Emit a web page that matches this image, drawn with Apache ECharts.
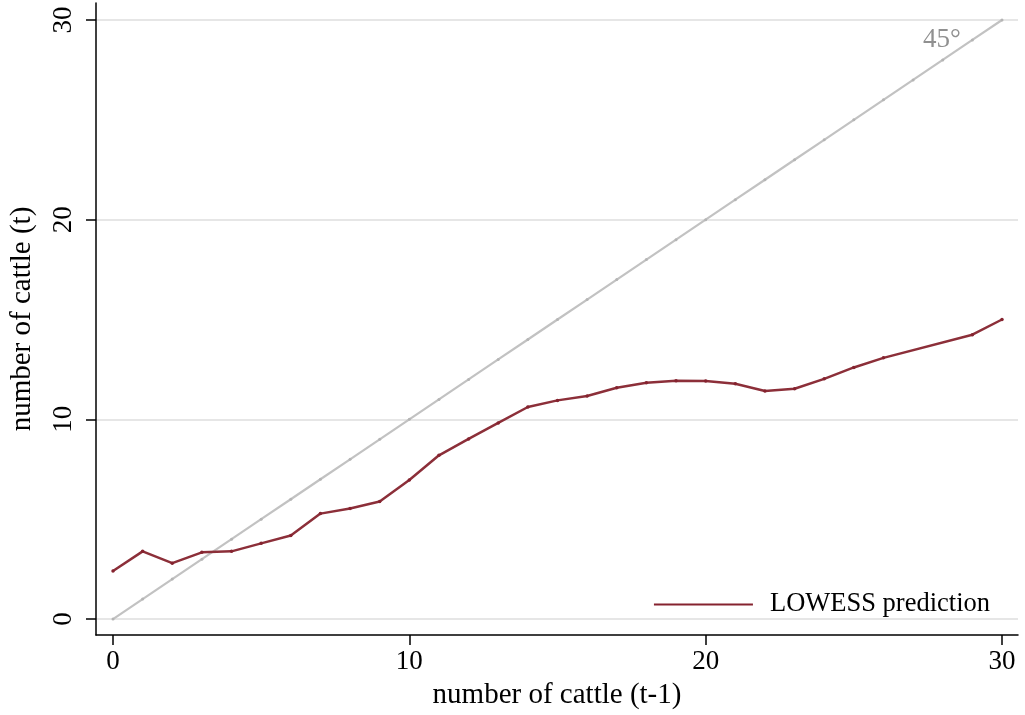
<!DOCTYPE html>
<html>
<head>
<meta charset="utf-8">
<script src="https://cdn.jsdelivr.net/npm/echarts@6/dist/echarts.min.js"></script>
<style>
html,body{margin:0;padding:0;background:#fff;}
#chart{width:1025px;height:715px;}
</style>
</head>
<body>
<div id="chart"></div>
<script>
// ---- data ----
const lowessX = [0,1,2,3,4,5,6,7,8,9,10,11,12,13,14,15,16,17,18,19,20,21,22,23,24,25,26,29,30];
const lowessY = [2.41,3.39,2.80,3.34,3.39,3.79,4.18,5.28,5.54,5.89,6.96,8.20,9.02,9.82,10.62,10.95,11.17,11.58,11.83,11.93,11.92,11.78,11.42,11.53,12.03,12.60,13.08,14.24,15.00];
const diagX = [0,1,2,3,4,5,6,7,8,9,10,11,12,13,14,15,16,17,18,19,20,21,22,23,24,25,26,27,28,29,30];
const diagY = [0,1,2,3,4,5,6,7,8,9,10,11,12,13,14,15,16,17,18,19,20,21,22,23,24,25,26,27,28,29,30];
const xTicks = [0,10,20,30];
const yTicks = [0,10,20,30];
const seriesName = 'LOWESS prediction';
const diagLabel = '45°';
const xTitle = 'number of cattle (t-1)';
const yTitle = 'number of cattle (t)';

const FONT = "'Liberation Serif','Times New Roman',serif";
const chart = echarts.init(document.getElementById('chart'), null, {renderer:'canvas'});

const lowessData = lowessX.map((x,i)=>[x, lowessY[i]]);
const diagData = diagX.map((x,i)=>[x, diagY[i]]);

chart.setOption({
  animation:false,
  backgroundColor:'#fff',
  grid:{left:96, right:7, top:3, bottom:78, containLabel:false},
  xAxis:{
    type:'value', min:-0.5737, max:30.54,
    axisLine:{show:true, onZero:false, lineStyle:{color:'#000', width:1.5}},
    axisTick:{show:true, length:10, lineStyle:{color:'#000', width:1.5}, customValues:xTicks},
    axisLabel:{customValues:xTicks, color:'#000', fontFamily:FONT, fontSize:27, margin:13},
    splitLine:{show:false},
    name:xTitle, nameLocation:'middle', nameGap:46,
    nameTextStyle:{color:'#000', fontFamily:FONT, fontSize:29}
  },
  yAxis:{
    type:'value', min:-0.7987, max:30.85,
    axisLine:{show:true, onZero:false, lineStyle:{color:'#000', width:1.5}},
    axisTick:{show:true, length:10, lineStyle:{color:'#000', width:1.5}, customValues:yTicks},
    axisLabel:{customValues:yTicks, color:'#000', fontFamily:FONT, fontSize:27, rotate:90, margin:19},
    splitLine:{show:true, lineStyle:{color:'#e6e6e6', width:2}},
    name:yTitle, nameLocation:'middle', nameGap:59,
    nameTextStyle:{color:'#000', fontFamily:FONT, fontSize:29}
  },
  legend:{
    data:[seriesName],
    right:30, top:586,
    icon:'rect', itemWidth:99, itemHeight:2,
    itemGap:0,
    textStyle:{color:'#000', fontFamily:FONT, fontSize:26.5, padding:[0,0,0,12]}
  },
  series:[
    {
      name:'diag', type:'line', data:diagData, z:2,
      symbol:'circle', symbolSize:3,
      itemStyle:{color:'#b5b5b5'},
      lineStyle:{color:'#c2c2c2', width:2.2},
      silent:true
    },
    {
      name:seriesName, type:'line', data:lowessData, z:3,
      symbol:'circle', symbolSize:3.5,
      itemStyle:{color:'#85232f'},
      lineStyle:{color:'#8c2f39', width:2.5},
      silent:true
    }
  ]
});

// 45° label via graphic positioned from the axis scale
const p = chart.convertToPixel({gridIndex:0}, [diagX[diagX.length-1], diagY[diagY.length-1]]);
chart.setOption({
  graphic:[{
    type:'text', x:p[0]-60, y:p[1]+20,
    style:{text:diagLabel, fill:'#909090', font:"27px 'Liberation Serif'", textAlign:'center', textVerticalAlign:'middle'}
  }]
});
</script>
</body>
</html>
